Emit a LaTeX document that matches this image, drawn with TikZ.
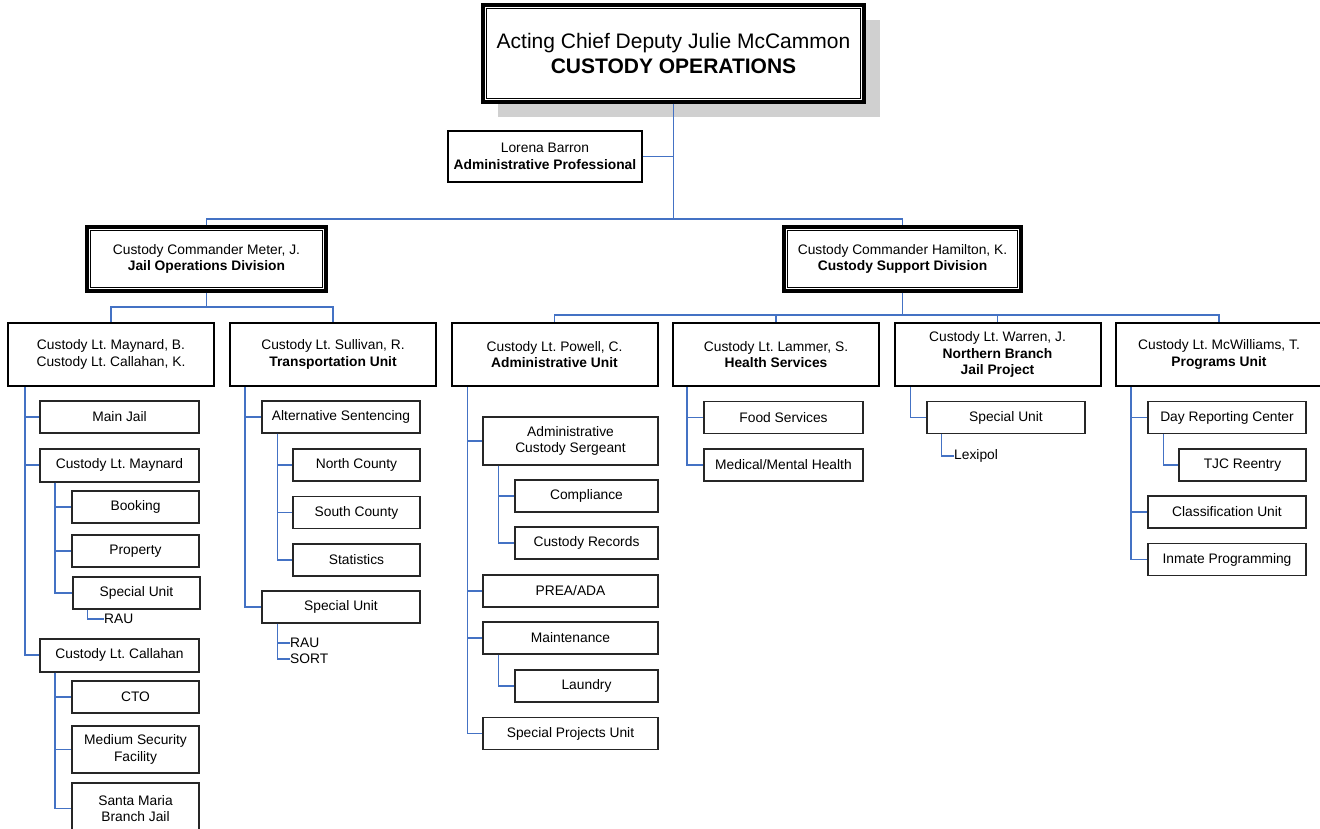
\documentclass[tikz,border=0pt]{standalone}
\usepackage{fontspec}
\setmainfont{Liberation Sans}
\usepackage{xcolor}
\definecolor{linkblue}{RGB}{68,114,196}
\definecolor{shadowgray}{RGB}{208,208,208}
\frenchspacing

\begin{document}
\begin{tikzpicture}[x=1pt, y=-1pt,
    every node/.style={align=center, inner sep=0pt, font=\fontsize{13.8}{16.5}\selectfont},
    framed/.style={draw, line width=3.2pt, fill=white,
        path picture={\draw[line width=1.1pt] ([shift={(3.6pt,-3.6pt)}]path picture bounding box.north west) rectangle ([shift={(-3.6pt,3.6pt)}]path picture bounding box.south east);}},
    ltbox/.style={draw, line width=2pt, fill=white, minimum width=206pt, minimum height=63pt},
    unit/.style={draw=black!85, line width=1.2pt, fill=white, minimum height=32pt},
    leaf/.style={anchor=west},
    link/.style={draw=linkblue, line width=1.3pt}]
    \useasboundingbox (0,0) rectangle (1320,829);
    \fill[shadowgray] (498,20) rectangle (880,117);

    \node[framed, minimum width=381pt, minimum height=97pt, font=\fontsize{21}{25}\selectfont] (chief) at (673.5,53.5) {Acting Chief Deputy Julie McCammon\\\textbf{CUSTODY OPERATIONS}};
    \node[draw, line width=2pt, minimum width=194pt, minimum height=51pt] (lorena) at (545,156.5) {Lorena Barron\\\textbf{Administrative Professional}};
    \node[framed, minimum width=239pt, minimum height=64pt] (meter) at (206.5,259) {Custody Commander Meter, J.\\\textbf{Jail Operations Division}};
    \node[framed, minimum width=237pt, minimum height=64pt] (hamilton) at (902.5,259) {Custody Commander Hamilton, K.\\\textbf{Custody Support Division}};

    \node[ltbox] (ltmc) at (111,354.5) {Custody Lt. Maynard, B.\\Custody Lt. Callahan, K.};
    \node[ltbox] (ltsul) at (333,354.5) {Custody Lt. Sullivan, R.\\\textbf{Transportation Unit}};
    \node[ltbox] (ltpow) at (554.5,354.5) {Custody Lt. Powell, C.\\\textbf{Administrative Unit}};
    \node[ltbox] (ltlam) at (776,354.5) {Custody Lt. Lammer, S.\\\textbf{Health Services}};
    \node[ltbox] (ltwar) at (997.5,354.5) {Custody Lt. Warren, J.\\\textbf{Northern Branch}\\\textbf{Jail Project}};
    \node[ltbox] (ltmcw) at (1219,354.5) {Custody Lt. McWilliams, T.\\\textbf{Programs Unit}};

    \node[unit, minimum width=159pt] (mainjail) at (119.5,417) {Main Jail};
    \node[unit, line width=2pt, minimum width=159pt, minimum height=33pt] (ltmay) at (119.5,465) {Custody Lt. Maynard};
    \node[unit, minimum width=127pt] (booking) at (135.5,507) {Booking};
    \node[unit, minimum width=127pt] (property) at (135.5,551) {Property};
    \node[unit, minimum width=127pt] (spec1) at (136.5,593) {Special Unit};
    \node[leaf] (rau1) at (104,619) {RAU};
    \node[unit, line width=2pt, minimum width=159pt, minimum height=33pt] (ltcal) at (119.5,655) {Custody Lt. Callahan};
    \node[unit, minimum width=127pt] (cto) at (135.5,697) {CTO};
    \node[unit, minimum width=127pt, minimum height=47pt] (medsec) at (135.5,749.5) {Medium Security\\Facility};
    \node[unit, minimum width=127pt, minimum height=51pt] (santa) at (135.5,808.5) {Santa Maria\\Branch Jail};

    \node[unit, minimum width=158pt] (altsent) at (341,417) {Alternative Sentencing};
    \node[unit, minimum width=127pt] (north) at (356.5,465) {North County};
    \node[unit, minimum width=127pt] (south) at (356.5,512.5) {South County};
    \node[unit, minimum width=127pt] (stats) at (356.5,560) {Statistics};
    \node[unit, minimum width=158pt] (spec2) at (341,607) {Special Unit};
    \node[leaf] (rau2) at (290,643) {RAU};
    \node[leaf] (sort) at (290,659) {SORT};

    \node[unit, minimum width=175pt, minimum height=48pt] (sgt) at (570.5,441) {Administrative\\Custody Sergeant};
    \node[unit, minimum width=143pt] (compl) at (586.5,496) {Compliance};
    \node[unit, minimum width=143pt] (records) at (586.5,543) {Custody Records};
    \node[unit, minimum width=175pt] (prea) at (570.5,591) {PREA/ADA};
    \node[unit, minimum width=175pt] (maint) at (570.5,638) {Maintenance};
    \node[unit, minimum width=143pt] (laundry) at (586.5,686) {Laundry};
    \node[unit, minimum width=175pt] (projects) at (570.5,733.5) {Special Projects Unit};

    \node[unit, minimum width=159pt] (food) at (783.5,417.5) {Food Services};
    \node[unit, minimum width=159pt] (medical) at (783.5,465) {Medical/Mental Health};

    \node[unit, minimum width=158pt] (spec3) at (1006,417.5) {Special Unit};
    \node[leaf] (lexipol) at (954,456) {Lexipol};

    \node[unit, minimum width=158pt] (drc) at (1227,417.5) {Day Reporting Center};
    \node[unit, minimum width=127pt] (tjc) at (1242.5,465) {TJC Reentry};
    \node[unit, minimum width=158pt] (class) at (1227,512) {Classification Unit};
    \node[unit, minimum width=158pt] (inmate) at (1227,559.5) {Inmate Programming};

    \coordinate (split) at (673.5,219);
    \coordinate (mbar) at (206.5,307);
    \coordinate (hbar) at (902.5,315);
    \draw[link] (chief.south) -- (split);
    \draw[link] (lorena.east) -- (lorena.east -| split);
    \draw[link] (meter.north) |- (split) -| (hamilton.north);
    \draw[link] (meter.south) -- (mbar);
    \draw[link] (ltmc.north) |- (mbar) -| (ltsul.north);
    \draw[link] (hamilton.south) -- (hbar);
    \draw[link] (ltpow.north) |- (hbar) -| (ltmcw.north);
    \draw[link] (ltlam.north) |- (hbar);
    \draw[link] (ltwar.north) |- (hbar);

    \foreach \kid in {mainjail,ltmay,ltcal} \draw[link] ([xshift=18]ltmc.south west) |- (\kid.west);
    \foreach \kid in {booking,property,spec1} \draw[link] ([xshift=16]ltmay.south west) |- (\kid.west);
    \draw[link] ([xshift=15]spec1.south west) |- (rau1.west);
    \foreach \kid in {cto,medsec,santa} \draw[link] ([xshift=16]ltcal.south west) |- (\kid.west);
    \foreach \kid in {altsent,spec2} \draw[link] ([xshift=16]ltsul.south west) |- (\kid.west);
    \foreach \kid in {north,south,stats} \draw[link] ([xshift=16]altsent.south west) |- (\kid.west);
    \foreach \kid in {rau2,sort} \draw[link] ([xshift=16]spec2.south west) |- (\kid.west);
    \foreach \kid in {sgt,prea,maint,projects} \draw[link] ([xshift=17]ltpow.south west) |- (\kid.west);
    \foreach \kid in {compl,records} \draw[link] ([xshift=16]sgt.south west) |- (\kid.west);
    \draw[link] ([xshift=16]maint.south west) |- (laundry.west);
    \foreach \kid in {food,medical} \draw[link] ([xshift=15]ltlam.south west) |- (\kid.west);
    \draw[link] ([xshift=17]ltwar.south west) |- (spec3.west);
    \draw[link] ([xshift=15]spec3.south west) |- (lexipol.west);
    \foreach \kid in {drc,class,inmate} \draw[link] ([xshift=16]ltmcw.south west) |- (\kid.west);
    \draw[link] ([xshift=16]drc.south west) |- (tjc.west);
\end{tikzpicture}
\end{document}
